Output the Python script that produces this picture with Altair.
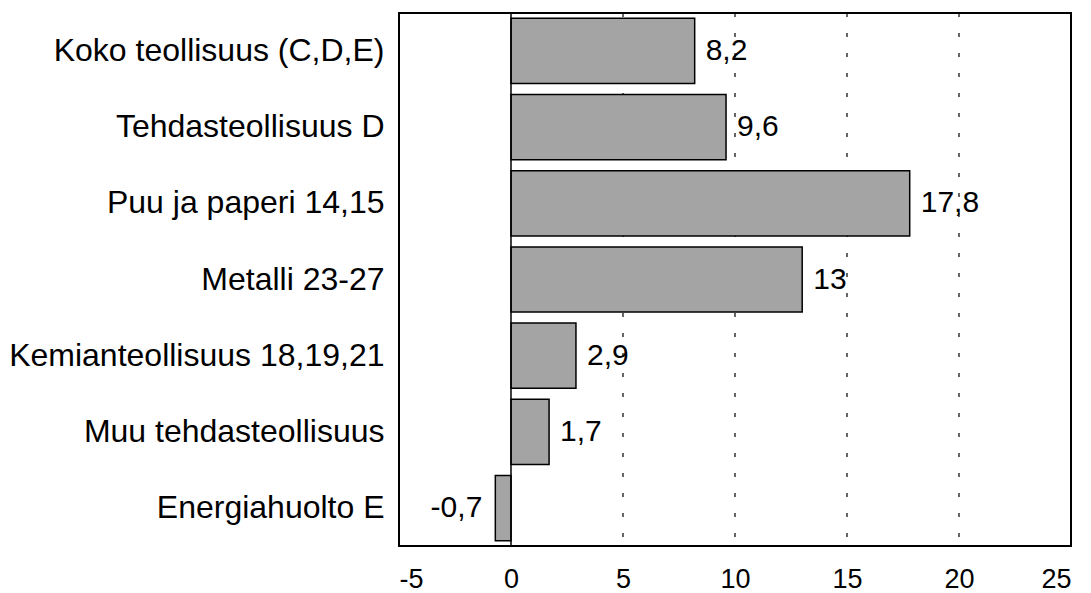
import altair as alt
import pandas as pd

categories = [
    "Koko teollisuus (C,D,E)",
    "Tehdasteollisuus D\u00a0",
    "Puu ja paperi 14,15",
    "Metalli 23-27",
    "Kemianteollisuus 18,19,21",
    "Muu tehdasteollisuus",
    "Energiahuolto E",
]
values = [8.2, 9.6, 17.8, 13, 2.9, 1.7, -0.7]
grid_values = [5, 10, 15, 20]
tick_values = [-5, 0, 5, 10, 15, 20, 25]

df = pd.DataFrame({
    "cat": categories,
    "val": values,
    "label": [("%g" % v).replace(".", ",") for v in values],
})
pos = df[df.val >= 0]
neg = df[df.val < 0]
grid = pd.DataFrame({"g": grid_values})

FONT = "Liberation Sans"
xscale = alt.Scale(domain=[-5, 25], nice=False, zero=False)
yscale = alt.Scale(paddingInner=0.145, paddingOuter=0.07)

gridlines = alt.Chart(grid).mark_rule(color="black", strokeWidth=1.2, strokeDash=[4, 16]).encode(
    x=alt.X("g:Q", scale=xscale)
)
zero = alt.Chart(pd.DataFrame({"z": [0]})).mark_rule(color="black", strokeWidth=1.5).encode(
    x=alt.X("z:Q", scale=xscale)
)
bars = alt.Chart(df).mark_bar(color="#a4a4a4", stroke="black", strokeWidth=1.5).encode(
    y=alt.Y("cat:N", sort=categories, scale=yscale,
            axis=alt.Axis(title=None, domain=False, ticks=False, labelFont=FONT,
                          labelFontSize=32, labelColor="black", labelPadding=15, labelLimit=400)),
    x=alt.X("val:Q", scale=xscale,
            axis=alt.Axis(title=None, domain=False, ticks=False, grid=False, values=tick_values,
                          labelExpr="toString(datum.value)",
                          labelFont=FONT, labelFontSize=27, labelColor="black", labelPadding=20)),
)
pos_text = alt.Chart(pos).mark_text(align="left", baseline="middle", dx=11, font=FONT,
                                    fontSize=30, color="black").encode(
    y=alt.Y("cat:N", sort=categories, scale=yscale),
    x=alt.X("val:Q", scale=xscale),
    text="label:N",
)
neg_text = alt.Chart(neg).mark_text(align="right", baseline="middle", dx=-13, font=FONT,
                                    fontSize=30, color="black").encode(
    y=alt.Y("cat:N", sort=categories, scale=yscale),
    x=alt.X("val:Q", scale=xscale),
    text="label:N",
)

chart = alt.layer(gridlines, bars, zero, pos_text, neg_text).properties(
    width=672, height=533,
    background="white",
    autosize=alt.AutoSizeParams(type="none"),
    padding={"left": 391, "top": 5, "right": 12, "bottom": 47},
).configure_view(stroke="black", strokeWidth=2)

chart.save("out.html", embed_options={"renderer": "svg", "actions": False})
